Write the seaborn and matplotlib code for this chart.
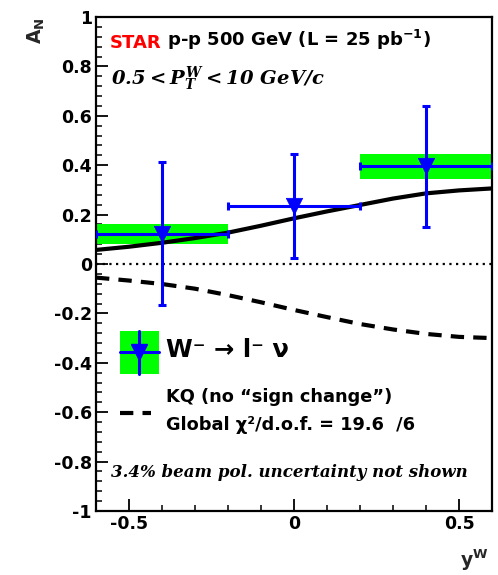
import numpy as np
import pandas as pd
import seaborn as sns
import matplotlib
matplotlib.use("Agg")
import matplotlib.pyplot as plt
from matplotlib.ticker import MultipleLocator, FuncFormatter
from matplotlib.patches import Rectangle
from matplotlib.lines import Line2D
from matplotlib.legend_handler import HandlerBase

# ---------------- data ----------------
yw_bins = [-0.4, 0.0, 0.4]
yw_halfwidth = [0.2, 0.2, 0.2]
an_vals = [0.123, 0.235, 0.395]
stat_err = [0.29, 0.21, 0.245]
sys_err = [0.04, 0.004, 0.05]

curve_x = [-0.6, -0.5, -0.4, -0.3, -0.2, -0.1, 0.0, 0.1, 0.2, 0.3, 0.4, 0.5, 0.6]
theory_solid = [0.057, 0.07, 0.086, 0.105, 0.127, 0.155, 0.185, 0.213, 0.239, 0.265, 0.286, 0.298, 0.306]
kq_dashed = [-0.055, -0.067, -0.081, -0.10, -0.126, -0.155, -0.186, -0.215, -0.243, -0.265, -0.283, -0.295, -0.30]

legend_labels = ["W\u207b \u2192 l\u207b \u03bd",
                 "KQ (no \u201csign change\u201d)\nGlobal \u03c7\u00b2/d.o.f. = 19.6  /6"]

# ---------------- style ----------------
sns.set_theme(style="ticks")
plt.rcParams["font.family"] = ["DejaVu Sans"]
plt.rcParams["font.weight"] = "bold"
plt.rcParams["axes.unicode_minus"] = False
plt.rcParams["mathtext.fontset"] = "custom"
plt.rcParams["mathtext.bf"] = "DejaVu Sans:bold"
plt.rcParams["mathtext.it"] = "DejaVu Serif:italic:bold"
plt.rcParams["mathtext.rm"] = "DejaVu Serif:italic:bold"

BLUE = "#0000ff"
GREEN = "#00ff00"
DASH = (0, (3.2, 2.2))


class DataHandler(HandlerBase):
    """Green systematic box with blue error cross and triangle, centred."""
    def create_artists(self, legend, orig_handle, xdescent, ydescent,
                       width, height, fontsize, trans):
        x0, y0 = -xdescent, -ydescent
        cx, cy = x0 + width / 2, y0 + height / 2
        rect = Rectangle((x0, y0), width, height, facecolor=GREEN,
                         edgecolor="none", transform=trans)
        hl = Line2D([x0, x0 + width], [cy, cy], color=BLUE, lw=2.2, transform=trans)
        vl = Line2D([cx, cx], [y0, y0 + height], color=BLUE, lw=2.2, transform=trans)
        mk = Line2D([cx], [cy], color=BLUE, marker="v", ms=11, ls="", transform=trans)
        return [rect, hl, vl, mk]


class LineHandler(HandlerBase):
    def __init__(self, frac=0.5, **kw):
        super().__init__(**kw)
        self.frac = frac

    def create_artists(self, legend, orig_handle, xdescent, ydescent,
                       width, height, fontsize, trans):
        x0, y0 = -xdescent, -ydescent
        yy = y0 + self.frac * height
        ln = Line2D([x0, x0 + width * 0.8], [yy, yy], color="black", lw=3.0,
                    ls=DASH, transform=trans)
        return [ln]


fig = plt.figure(figsize=(4.98, 5.75), dpi=100)
fig.patch.set_facecolor("white")
ax = fig.add_axes([0.1928, 0.1113, 0.7952, 0.8591])
ax.set_facecolor("white")

df = pd.DataFrame({"x": yw_bins, "y": an_vals, "xe": yw_halfwidth,
                   "ye": stat_err, "sys": sys_err})
curves = pd.DataFrame({"x": curve_x, "solid": theory_solid, "dashed": kq_dashed})

# systematic boxes
ax.bar(df["x"], 2 * df["sys"], bottom=df["y"] - df["sys"], width=2 * df["xe"],
       color=GREEN, linewidth=0, zorder=1)

# zero line
ax.axhline(0, color="black", lw=1.6, ls=(0, (1, 2.0)), zorder=2)

# theory curves
sns.lineplot(data=curves, x="x", y="solid", ax=ax, color="black", lw=3.0, zorder=3)
sns.lineplot(data=curves, x="x", y="dashed", ax=ax, color="black", lw=3.0,
             zorder=3, dashes=False, linestyle=DASH)

# data points
ax.errorbar(df["x"], df["y"], xerr=df["xe"], yerr=df["ye"], fmt="none",
            ecolor=BLUE, elinewidth=2.2, capsize=3.0, capthick=2.2, zorder=4)
sns.scatterplot(data=df, x="x", y="y", ax=ax, marker="v", s=140, color=BLUE,
                edgecolor=BLUE, linewidth=0.5, zorder=5)

# axes
ax.set_xlim(-0.6, 0.6)
ax.set_ylim(-1, 1)
ax.xaxis.set_major_locator(MultipleLocator(0.5))
ax.xaxis.set_minor_locator(MultipleLocator(0.1))
ax.yaxis.set_major_locator(MultipleLocator(0.2))
ax.yaxis.set_minor_locator(MultipleLocator(0.04))


def _fmt(v, p):
    if abs(v) < 1e-9:
        return "0"
    return "%g" % round(v, 3)


fmt = FuncFormatter(_fmt)
ax.xaxis.set_major_formatter(fmt)
ax.yaxis.set_major_formatter(fmt)
ax.tick_params(axis="both", which="major", direction="in", length=8.6, width=1.3,
               top=False, right=False, labelsize=12.5, pad=3, color="black",
               labelcolor="black")
ax.tick_params(axis="both", which="minor", direction="in", length=4.3, width=1.1,
               top=False, right=False, color="black")
for lab in ax.get_xticklabels() + ax.get_yticklabels():
    lab.set_fontweight("bold")
for s in ax.spines.values():
    s.set_visible(True)
    s.set_linewidth(1.6)
    s.set_color("black")

ax.set_xlabel(r"$\mathbf{y^W}$", fontsize=13.5, loc="right")
ax.xaxis.set_label_coords(0.99, -0.074)
ax.set_ylabel(r"$\mathbf{A_N}$", fontsize=13.5, loc="top")
ax.yaxis.set_label_coords(-0.125, 1.0)

# annotations
t1 = ax.text(0.035, 0.937, "STAR", color="#ff0000", fontsize=13, fontweight="bold",
             transform=ax.transAxes, va="baseline", ha="left")
ax.annotate(r" p-p 500 GeV (L = 25 pb$^{\mathbf{-1}}$)", xy=(1, 0), xycoords=t1,
            va="bottom", ha="left", fontsize=13, fontweight="bold", color="black")
ax.text(0.038, 0.862, r"$\mathit{0.5 < P_T^W < 10\ GeV/c}$", fontsize=14,
        transform=ax.transAxes, va="baseline", ha="left", color="black")
ax.text(0.038, 0.069, "3.4% beam pol. uncertainty not shown", fontsize=12,
        family="DejaVu Serif", style="italic", fontweight="bold",
        transform=ax.transAxes, va="baseline", ha="left", color="black")

# legend
h_data = Rectangle((0, 0), 1, 1)
h_kq = Line2D([], [])
leg = ax.legend([h_data, h_kq], legend_labels,
                handler_map={h_data: DataHandler(), h_kq: LineHandler(frac=0.5)},
                loc="upper left", bbox_to_anchor=(0.06, 0.365), frameon=False,
                borderpad=0, borderaxespad=0, handlelength=2.19, handleheight=3.34,
                handletextpad=0.4, labelspacing=0.79, fontsize=12.8)
texts = leg.get_texts()
texts[0].set_fontsize(17.5)
texts[1].set_linespacing(1.75)
for t in texts:
    t.set_fontweight("bold")
    t.set_color("black")

fig.savefig("out.png", dpi=100)
